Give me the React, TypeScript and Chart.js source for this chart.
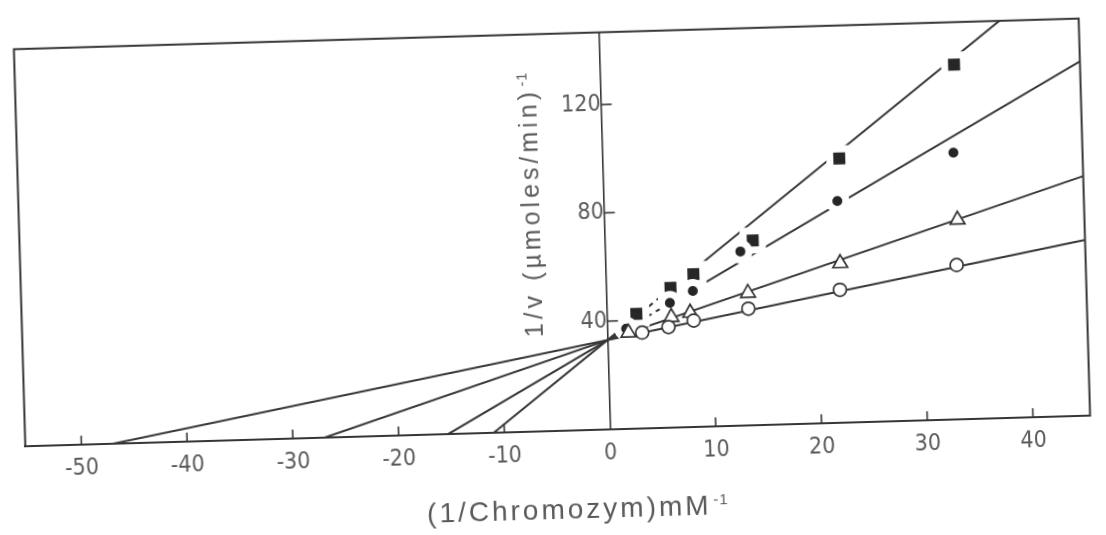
import React, { useEffect, useRef } from "react";
import { Chart, registerables } from "chart.js";

Chart.register(...registerables);

// ---- axes ----
const xTickValues = [-50, -40, -30, -20, -10, 0, 10, 20, 30, 40];
const yTickValues = [40, 80, 120];
const xMin = -55.3;
const xMax = 45.4;
const yMin = 0;
const yMax = 146.7;

// ---- measured points (1/[S], 1/v) ----
// open circles
const openCircleX = [3.3, 5.8, 8.2, 13.4, 22.1, 33.2];
const openCircleY = [35.4, 37.2, 39.3, 43.1, 49.1, 57.0];
// open triangles
const triangleX = [2.0, 6.1, 7.9, 13.4, 22.2, 33.4];
const triangleY = [35.5, 40.8, 42.2, 48.9, 58.9, 73.7];
// filled circles
const dotX = [1.8, 6.0, 8.2, 12.8, 22.1, 33.2];
const dotY = [37.0, 46.1, 50.2, 64.3, 81.9, 98.5];
// filled squares
const squareX = [2.8, 6.1, 8.3, 14.0, 22.4, 33.5];
const squareY = [42.4, 51.6, 56.4, 68.2, 97.6, 131.0];

// ---- fitted Lineweaver-Burk lines (common 1/Vmax intercept) ----
const lineYIntercept = 33;
const lineXIntercepts = [-47, -27, -15.3, -11.0];
const lineDashFrom: (number | null)[] = [null, null, 2.5, 2.8];
const lineDashTo: (number | null)[] = [null, null, 8.2, 8.3];

// ---- texts ----
const xTitleText = "(1/Chromozym)mM";
const yTitleText = "1/v (µmoles/min)";
const titleExponent = "-1";

const INK = "#363636";
const TEXT = "#5a5a5a";

function pts(xs: number[], ys: number[]) {
  return xs.map((x, i) => ({ x, y: ys[i] }));
}

function buildLine(i: number) {
  const xi = lineXIntercepts[i];
  const slope = lineYIntercept / -xi;
  const f = (x: number) => lineYIntercept + slope * x;
  const data = [{ x: xi, y: 0 }];
  const a = lineDashFrom[i];
  const b = lineDashTo[i];
  if (a != null && b != null) {
    data.push({ x: a, y: f(a) }, { x: b, y: f(b) });
  }
  data.push({ x: xMax, y: f(xMax) });
  return data;
}

function drawTitle(
  ctx: CanvasRenderingContext2D,
  text: string,
  sup: string,
  cx: number,
  cy: number,
  rot: number,
  size: number,
  spacing: number
) {
  const fam = '"Liberation Sans", Arial, sans-serif';
  const supSize = Math.round(size * 0.55);
  ctx.save();
  ctx.translate(cx, cy);
  ctx.rotate(rot);
  ctx.fillStyle = TEXT;
  ctx.textAlign = "left";
  ctx.textBaseline = "alphabetic";
  ctx.font = `${size}px ${fam}`;
  (ctx as any).letterSpacing = `${spacing}px`;
  const w1 = ctx.measureText(text).width;
  ctx.font = `${supSize}px ${fam}`;
  (ctx as any).letterSpacing = "1px";
  const w2 = ctx.measureText(sup).width;
  const total = w1 + 2 + w2;
  const base = size * 0.36;
  ctx.font = `${size}px ${fam}`;
  (ctx as any).letterSpacing = `${spacing}px`;
  ctx.fillText(text, -total / 2, base);
  ctx.font = `${supSize}px ${fam}`;
  (ctx as any).letterSpacing = "1px";
  ctx.fillText(sup, -total / 2 + w1 + 2, base - size * 0.36);
  ctx.restore();
}

const decorPlugin = {
  id: "decor",
  beforeDraw(chart: any) {
    const { ctx, width, height } = chart;
    ctx.save();
    ctx.fillStyle = "#ffffff";
    ctx.fillRect(0, 0, width, height);
    ctx.restore();
  },
  afterDraw(chart: any) {
    const { ctx, chartArea: a, scales } = chart;
    const xs = scales.x;
    const ys = scales.y;
    ctx.save();
    ctx.strokeStyle = INK;
    ctx.lineWidth = 2;
    ctx.strokeRect(a.left, a.top, a.right - a.left, a.bottom - a.top);
    ctx.lineWidth = 1.6;
    xTickValues.forEach((v) => {
      if (v === 0) return;
      const px = xs.getPixelForValue(v);
      ctx.beginPath();
      ctx.moveTo(px, a.bottom);
      ctx.lineTo(px, a.bottom - 9);
      ctx.stroke();
    });
    const x0 = xs.getPixelForValue(0);
    yTickValues.forEach((v) => {
      const py = ys.getPixelForValue(v);
      ctx.beginPath();
      ctx.moveTo(x0, py);
      ctx.lineTo(x0 + 11, py);
      ctx.stroke();
    });
    ctx.restore();
    drawTitle(ctx, xTitleText, titleExponent, (a.left + a.right) / 2 + 18, a.bottom + 78, 0, 28, 3);
    drawTitle(ctx, yTitleText, titleExponent, x0 - 73, a.top + 170, -Math.PI / 2, 25, 4);
  },
};

export default function App() {
  const ref = useRef<HTMLCanvasElement | null>(null);

  useEffect(() => {
    if (!ref.current) return;
    const tickFont = {
      family: '"Liberation Sans Narrow", "DejaVu Sans Condensed", "Liberation Sans", sans-serif',
      size: 23,
    };
    const openStyle = {
      showLine: false,
      pointBackgroundColor: "#ffffff",
      pointBorderColor: INK,
      pointBorderWidth: 1.7,
    };
    const filledStyle = {
      showLine: false,
      pointBackgroundColor: "#262626",
      pointBorderColor: "#ffffff",
      pointBorderWidth: 7,
    };
    const lineDatasets = lineXIntercepts.map((_, i) => ({
      label: `fit ${i + 1}`,
      data: buildLine(i),
      showLine: true,
      borderColor: INK,
      borderWidth: 2,
      pointRadius: 0,
      order: 3,
      segment: {
        borderDash: (c: any) =>
          lineDashFrom[i] != null && c.p0DataIndex === 1 ? [8, 5] : undefined,
      },
    }));

    const chart = new Chart(ref.current, {
      type: "scatter",
      data: {
        datasets: [
          { label: "open circles", data: pts(openCircleX, openCircleY), pointStyle: "circle", pointRadius: 6.5, order: 1, ...openStyle },
          { label: "open triangles", data: pts(triangleX, triangleY), pointStyle: "triangle", pointRadius: 8.5, order: 1, ...openStyle },
          { label: "filled circles", data: pts(dotX, dotY), pointStyle: "circle", pointRadius: 8.5, order: 2, ...filledStyle },
          { label: "filled squares", data: pts(squareX, squareY), pointStyle: "rect", pointRadius: 13.4, order: 2, ...filledStyle },
          ...lineDatasets,
        ] as any,
      },
      options: {
        responsive: false,
        devicePixelRatio: 1,
        animation: false,
        layout: { padding: { left: 11, right: 8, top: 28, bottom: 0 } },
        plugins: { legend: { display: false }, tooltip: { enabled: false } },
        scales: {
          x: {
            type: "linear",
            position: "bottom",
            min: xMin,
            max: xMax,
            afterBuildTicks: (s: any) => {
              s.ticks = xTickValues.map((v) => ({ value: v }));
            },
            afterFit: (s: any) => {
              s.height = 104;
            },
            grid: { display: true, drawOnChartArea: false, drawTicks: false },
            border: { display: true, color: INK, width: 2 },
            ticks: { color: TEXT, font: tickFont, padding: 10, maxRotation: 0, autoSkip: false },
          },
          y: {
            type: "linear",
            position: { x: 0 } as any,
            min: yMin,
            max: yMax,
            afterBuildTicks: (s: any) => {
              s.ticks = yTickValues.map((v) => ({ value: v }));
            },
            grid: { display: true, drawOnChartArea: false, drawTicks: false },
            border: { display: true, color: INK, width: 1.6 },
            ticks: { color: TEXT, font: tickFont, padding: 20, autoSkip: false },
          },
        },
      },
      plugins: [decorPlugin],
    });
    return () => chart.destroy();
  }, []);

  return (
    <div
      style={{
        position: "fixed",
        left: 0,
        top: 0,
        width: 1106,
        height: 535,
        background: "#ffffff",
        transform: "rotate(-1.65deg)",
        transformOrigin: "50% 50%",
      }}
    >
      <canvas ref={ref} width={1106} height={535} style={{ display: "block" }} />
    </div>
  );
}
